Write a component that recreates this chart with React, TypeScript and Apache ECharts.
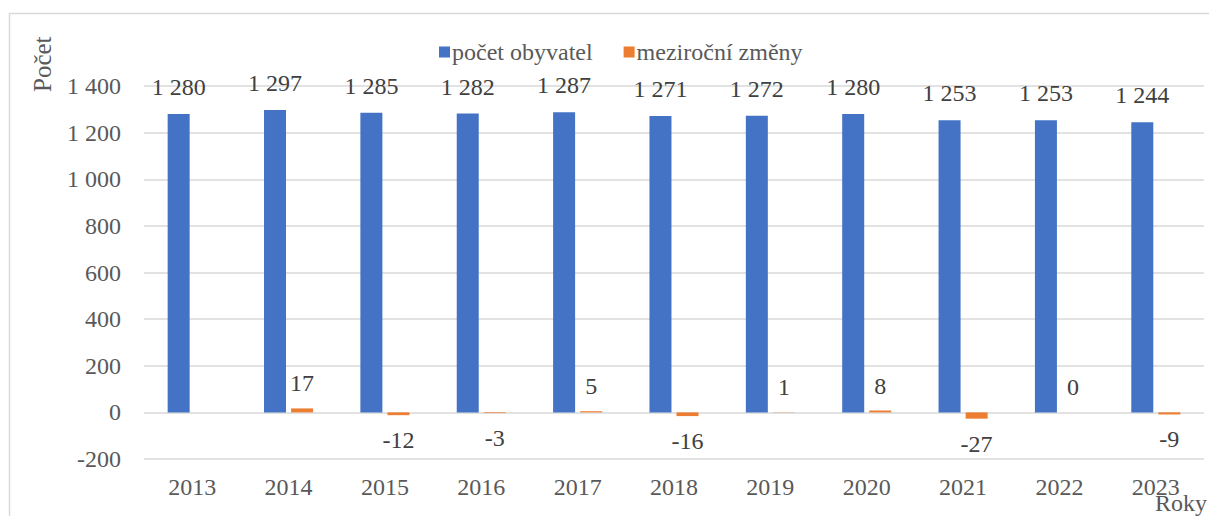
import React, { useEffect, useRef } from "react";
import * as echarts from "echarts";

const years = ["2013", "2014", "2015", "2016", "2017", "2018", "2019", "2020", "2021", "2022", "2023"];
const population = [1280, 1297, 1285, 1282, 1287, 1271, 1272, 1280, 1253, 1253, 1244];
const changes: (number | null)[] = [null, 17, -12, -3, 5, -16, 1, 8, -27, 0, -9];
const seriesNames = ["počet obyvatel", "meziroční změny"];
const yTicks = { min: -200, max: 1400, interval: 200 };

const FONT = "Liberation Serif";
const FS = 24;
const fmt = (v: number) => {
  const s = Math.abs(v).toString().replace(/\B(?=(\d{3})+(?!\d))/g, " ");
  return (v < 0 ? "-" : "") + s;
};

export default function App() {
  const ref = useRef<HTMLDivElement>(null);
  useEffect(() => {
    if (!ref.current) return;
    const chart = echarts.init(ref.current, undefined, { renderer: "svg" });
    chart.setOption({
      animation: false,
      textStyle: { fontFamily: FONT },
      legend: {
        left: 434,
        top: 35,
        itemWidth: 11,
        itemHeight: 11,
        itemGap: 31,
        icon: "rect",
        textStyle: { fontFamily: FONT, fontSize: FS, color: "#595959", padding: [0, 0, 0, -3] },
        data: seriesNames,
      },
      grid: { left: 144, right: 5, top: 86, bottom: 57, containLabel: false },
      xAxis: {
        type: "category",
        data: years,
        axisLine: { show: false, onZero: false },
        axisTick: { show: false },
        axisLabel: { fontFamily: FONT, fontSize: FS, color: "#595959", margin: 16 },
      },
      yAxis: {
        type: "value",
        min: yTicks.min,
        max: yTicks.max,
        interval: yTicks.interval,
        axisLine: { show: false },
        axisTick: { show: false },
        splitLine: { lineStyle: { color: "#d9d9d9", width: 1.5 } },
        axisLabel: { fontFamily: FONT, fontSize: FS, color: "#595959", margin: 23, formatter: (v: number) => fmt(v) },
      },
      graphic: [
        {
          type: "rect",
          silent: true,
          shape: { x: 9.5, y: 13.5, width: 1300, height: 600 },
          style: { fill: "none", stroke: "#d9d9d9", lineWidth: 1.5 },
        },
        {
          type: "text",
          x: 30,
          y: 92,
          rotation: Math.PI / 2,
          style: { text: "Počet", fontFamily: FONT, fontSize: 25, fill: "#595959", align: "left", verticalAlign: "top" },
        },
        {
          type: "text",
          x: 1155,
          y: 491,
          style: { text: "Roky", fontFamily: FONT, fontSize: FS, fill: "#595959", align: "left", verticalAlign: "top" },
        },
      ],
      series: [
        {
          name: seriesNames[0],
          type: "bar",
          data: population,
          barWidth: 22,
          barGap: "23%",
          itemStyle: { color: "#4472C4" },
          label: {
            show: true,
            position: "top",
            distance: 15,
            fontFamily: FONT,
            fontSize: FS,
            color: "#404040",
            formatter: (p: any) => fmt(p.value),
          },
        },
        {
          name: seriesNames[1],
          type: "bar",
          data: changes.map((v) =>
            v == null ? null : { value: v, label: { position: v < 0 ? "bottom" : "top", distance: 13 } }
          ),
          barWidth: 22,
          itemStyle: { color: "#ED7D31" },
          label: {
            show: true,
            fontFamily: FONT,
            fontSize: FS,
            color: "#404040",
            formatter: (p: any) => fmt(p.value),
          },
        },
      ],
    });
    return () => chart.dispose();
  }, []);
  return <div ref={ref} style={{ position: "fixed", left: 0, top: 0, width: 1209, height: 516, background: "#fff" }} />;
}
